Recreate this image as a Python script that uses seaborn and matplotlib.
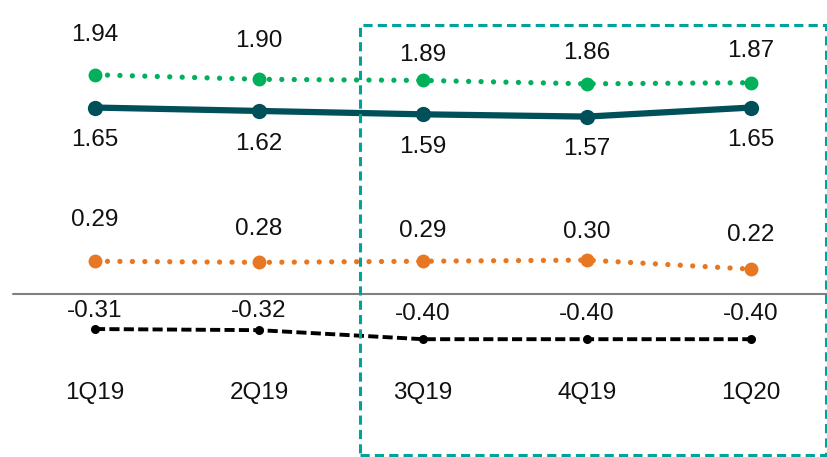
import numpy as np
import pandas as pd
import matplotlib
matplotlib.use("Agg")
import matplotlib.pyplot as plt
from matplotlib.patches import Rectangle
import seaborn as sns

# Quarterly values for the four series
quarters = ["1Q19", "2Q19", "3Q19", "4Q19", "1Q20"]
series_top = [1.94, 1.90, 1.89, 1.86, 1.87]
series_main = [1.65, 1.62, 1.59, 1.57, 1.65]
series_low = [0.29, 0.28, 0.29, 0.30, 0.22]
series_neg = [-0.31, -0.32, -0.40, -0.40, -0.40]

sns.set_theme(style="white")
plt.rcParams["font.family"] = ["Liberation Sans", "DejaVu Sans"]

W, H, DPI = 828, 457, 100
fig = plt.figure(figsize=(W / DPI, H / DPI), dpi=DPI)

# axes spans the full width; its bottom edge sits just above the category labels
zero_px, px_per_unit = 294.0, 113.0
bottom_px = 380.0
ax = fig.add_axes([0, (H - bottom_px) / H, 1, bottom_px / H])

x = np.arange(len(quarters))
df = pd.DataFrame({
    "x": np.tile(x, 4),
    "value": series_top + series_main + series_low + series_neg,
    "series": np.repeat(["top", "main", "low", "neg"], len(quarters)),
})

styles = {
    "top":  dict(color="#00B05A", lw=3.8, ls=(0, (0.01, 2.35)), ms=10.0, marker="o"),
    "main": dict(color="#00505A", lw=4.5, ls="-", ms=11.0, marker="o"),
    "low":  dict(color="#E87722", lw=3.8, ls=(0, (0.01, 2.35)), ms=10.0, marker="o"),
    "neg":  dict(color="#000000", lw=2.8, ls=(0, (2.6, 1.1)), ms=6.5, marker="o"),
}

for name, st in styles.items():
    sub = df[df["series"] == name]
    sns.lineplot(data=sub, x="x", y="value", ax=ax, color=st["color"],
                 linewidth=st["lw"], linestyle=st["ls"], marker=st["marker"],
                 markersize=st["ms"], markeredgewidth=0, legend=False,
                 dash_capstyle="round" if name in ("top", "low") else "butt",
                 solid_capstyle="round")

# value labels, offsets in points from each marker
label_offsets = {
    "top":  [29, 27.5, 18.5, 22, 22.5],
    "main": [-23.5, -23.5, -23.5, -23, -23.5],
    "low":  [30, 24, 21.5, 20, 24.5],
    "neg":  [13, 13.5, 18, 18, 18],
}
values = {"top": series_top, "main": series_main, "low": series_low, "neg": series_neg}
for name, vals in values.items():
    for xi, v, off in zip(x, vals, label_offsets[name]):
        ax.annotate(f"{v:.2f}", (xi, v), xytext=(0, off), textcoords="offset points",
                    ha="center", va="center", fontsize=17.5, color="#111111")

# zero baseline
ax.axhline(0, xmin=13 / W, xmax=1, color="#808080", lw=1.5, zorder=1)

ax.set_ylim((zero_px - bottom_px) / px_per_unit, zero_px / px_per_unit)
ax.set_xlim(-95 / 164, (W - 95) / 164)
ax.set_xticks(x)
ax.set_xticklabels(quarters, fontsize=17.5, color="#111111")
ax.tick_params(axis="x", length=0, pad=1.5)
ax.set_yticks([])
ax.set_xlabel("")
ax.set_ylabel("")
for s in ax.spines.values():
    s.set_visible(False)
ax.patch.set_alpha(0)

# highlight box around the latest three quarters
box = Rectangle((360 / W, 1 - 455 / H), (826 - 360) / W, (455 - 25) / H,
                transform=fig.transFigure, fill=False, edgecolor="#00A39B",
                lw=2.2, linestyle=(0, (3, 1.7)), clip_on=False)
fig.add_artist(box)

fig.savefig("out.png", dpi=DPI)
